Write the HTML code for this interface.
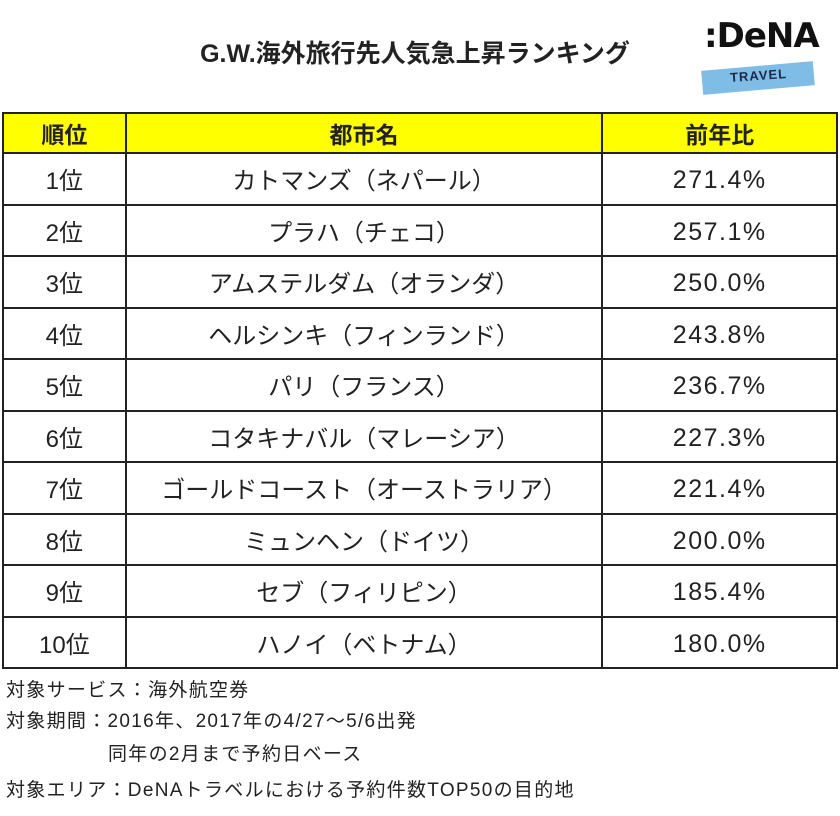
<!DOCTYPE html>
<html><head><meta charset="utf-8">
<style>
body{margin:0;width:840px;height:816px;background:#fff;position:relative;overflow:hidden;font-family:"Liberation Sans","Noto Sans CJK JP",sans-serif;color:#222}
.abs{position:absolute}
table{position:absolute;left:2px;top:112px;border-collapse:collapse;width:836px}
td,th{border:2px solid #222;text-align:center;font-size:24px;font-weight:normal;padding:0}
th{background:#ffff00;font-weight:bold;height:38px;font-size:23px}
td{height:49.5px}
td:nth-child(3){font-size:25px;letter-spacing:1.5px;padding-top:4px;height:45.5px}
.note{position:absolute;left:6px;font-size:19px;white-space:nowrap;letter-spacing:1.3px}
</style></head><body>
<div class="abs" style="left:130px;top:34px;width:570px;text-align:center;font-size:25px;font-weight:bold">G.W.海外旅行先人気急上昇ランキング</div>
<div class="abs" style="left:700px;top:10px;width:130px;height:90px">
 <div class="abs" style="left:2px;top:56px;width:112px;height:24px;background:#7fbde6;transform:rotate(-5deg)"></div>
 <div class="abs" style="left:30px;top:58px;font-size:13px;font-weight:bold;color:#1b2a4a;transform:rotate(-4deg);letter-spacing:1px">TRAVEL</div>
 <div class="abs" style="left:4px;top:6px;font-size:34px;font-weight:bold;color:#111;letter-spacing:-1px;font-family:'DejaVu Sans',sans-serif">:DeNA</div>
</div>
<table>
<colgroup><col style="width:123px"><col style="width:478px"><col style="width:235px"></colgroup>
<tr><th>順位</th><th>都市名</th><th>前年比</th></tr>
<tr><td>1位</td><td>カトマンズ（ネパール）</td><td>271.4%</td></tr>
<tr><td>2位</td><td>プラハ（チェコ）</td><td>257.1%</td></tr>
<tr><td>3位</td><td>アムステルダム（オランダ）</td><td>250.0%</td></tr>
<tr><td>4位</td><td>ヘルシンキ（フィンランド）</td><td>243.8%</td></tr>
<tr><td>5位</td><td>パリ（フランス）</td><td>236.7%</td></tr>
<tr><td>6位</td><td>コタキナバル（マレーシア）</td><td>227.3%</td></tr>
<tr><td>7位</td><td>ゴールドコースト（オーストラリア）</td><td>221.4%</td></tr>
<tr><td>8位</td><td>ミュンヘン（ドイツ）</td><td>200.0%</td></tr>
<tr><td>9位</td><td>セブ（フィリピン）</td><td>185.4%</td></tr>
<tr><td>10位</td><td>ハノイ（ベトナム）</td><td>180.0%</td></tr>
</table>
<div class="note" style="top:675px">対象サービス：海外航空券</div>
<div class="note" style="top:706px">対象期間：2016年、2017年の4/27～5/6出発</div>
<div class="note" style="top:739px;left:108px">同年の2月まで予約日ベース</div>
<div class="note" style="top:775px">対象エリア：DeNAトラベルにおける予約件数TOP50の目的地</div>
</body></html>
